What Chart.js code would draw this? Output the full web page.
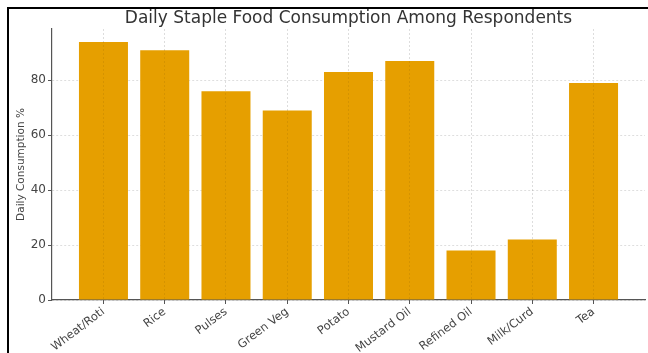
<!DOCTYPE html>
<html>
<head>
<meta charset="utf-8">
<script src="https://cdn.jsdelivr.net/npm/chart.js@4.4.0/dist/chart.umd.min.js"></script>
<style>
  html, body { margin: 0; padding: 0; background: #fff; }
  #wrap { position: relative; width: 648px; height: 353px; }
</style>
</head>
<body>
<div id="wrap"><canvas id="myChart"></canvas></div>
<script>
// data
var categories = ['Wheat/Roti', 'Rice', 'Pulses', 'Green Veg', 'Potato', 'Mustard Oil', 'Refined Oil', 'Milk/Curd', 'Tea'];
var consumption = [94, 91, 76, 69, 83, 87, 18, 22, 79];
var yTicks = [0, 20, 40, 60, 80];
var chartTitle = 'Daily Staple Food Consumption Among Respondents';
var yTitle = 'Daily Consumption %';

var barColor = '#E69F00';
var gridColor = 'rgba(0,0,0,0.13)';
var textColor = '#444';

// frame line (top + left) and the title centred over the plot
var framePlugin = {
    id: 'frame',
    afterDatasetsDraw: function(chart) {
        // grid lines show through the bars in the original
        chart.scales.x.drawGrid(chart.chartArea);
    },
    afterDraw: function(chart) {
        var ctx = chart.ctx;
        var a = chart.chartArea;
        ctx.save();
        ctx.strokeStyle = '#000';
        ctx.lineWidth = 2;
        ctx.beginPath();
        ctx.moveTo(8, 353);
        ctx.lineTo(8, 8);
        ctx.lineTo(648, 8);
        ctx.stroke();
        ctx.fillStyle = '#333';
        ctx.font = '17px "DejaVu Sans"';
        ctx.textAlign = 'center';
        ctx.textBaseline = 'middle';
        ctx.fillText(chartTitle, (a.left + a.right) / 2, 19);
        ctx.restore();
    }
};

var ctx = document.getElementById('myChart').getContext('2d');
var chart = new Chart(ctx, {
    type: 'bar',
    data: {
        datasets: [{
            label: yTitle,
            data: consumption.map(function(v, i) { return {x: i, y: v}; }),
            backgroundColor: barColor,
            borderWidth: 0,
            barPercentage: 1,
            categoryPercentage: 0.8
        }]
    },
    options: {
        responsive: true,
        maintainAspectRatio: false,
        animation: false,
        layout: { padding: { top: 29, left: 10, right: 3, bottom: 0 } },
        plugins: {
            legend: { display: false },
            tooltip: { enabled: false }
        },
        scales: {
            x: {
                type: 'linear',
                min: -0.84,
                max: 8.84,
                offset: false,
                afterFit: function(scale) { scale.height = 53; },
                grid: { offset: false, color: 'rgba(0,0,0,0.07)', tickColor: '#555', tickLength: 4 },
                border: { color: '#555', width: 1.2, dash: [2, 2] },
                ticks: {
                    stepSize: 1,
                    includeBounds: false,
                    autoSkip: false,
                    minRotation: 37,
                    maxRotation: 37,
                    padding: 1,
                    color: textColor,
                    font: { family: 'DejaVu Sans', size: 11.5 },
                    callback: function(value) { return categories[value]; }
                }
            },
            y: {
                min: 0,
                max: 98.7,
                afterFit: function(scale) { scale.width = 42; },
                afterBuildTicks: function(scale) {
                    scale.ticks = yTicks.map(function(v) { return {value: v}; });
                },
                grid: { color: gridColor, tickColor: '#555', tickLength: 4 },
                border: { color: '#555', width: 1.2, dash: [2, 2] },
                title: {
                    display: true,
                    text: yTitle,
                    color: textColor,
                    padding: { top: 5, bottom: 0 },
                    font: { family: 'DejaVu Sans', size: 10.5 }
                },
                ticks: {
                    padding: 2,
                    color: textColor,
                    font: { family: 'DejaVu Sans', size: 12 }
                }
            }
        }
    },
    plugins: [framePlugin]
});
</script>
</body>
</html>
